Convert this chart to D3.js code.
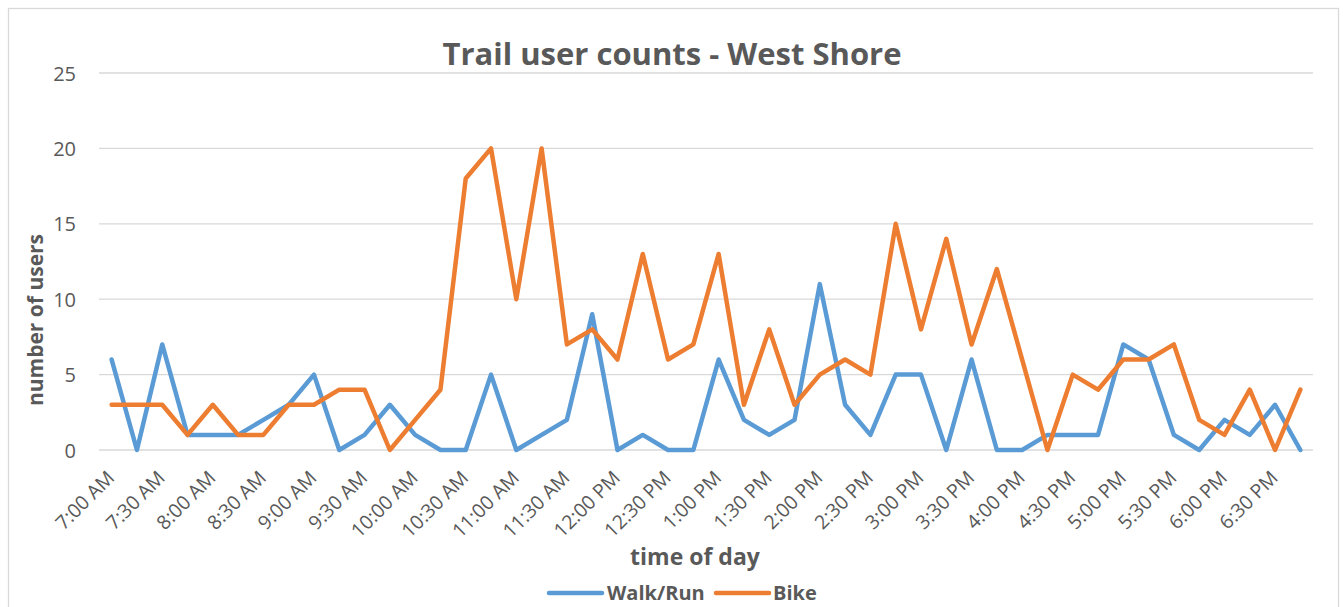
<!DOCTYPE html>
<html><head><meta charset="utf-8">
<script src="https://cdn.jsdelivr.net/npm/d3@7"></script>
<style>body{margin:0;background:#fff;}svg{display:block;font-family:"Open Sans",sans-serif;}</style>
</head><body>
<svg id="c" width="1343" height="607"></svg>
<script>
const times = ["7:00 AM","7:15 AM","7:30 AM","7:45 AM","8:00 AM","8:15 AM","8:30 AM","8:45 AM","9:00 AM","9:15 AM","9:30 AM","9:45 AM","10:00 AM","10:15 AM","10:30 AM","10:45 AM","11:00 AM","11:15 AM","11:30 AM","11:45 AM","12:00 PM","12:15 PM","12:30 PM","12:45 PM","1:00 PM","1:15 PM","1:30 PM","1:45 PM","2:00 PM","2:15 PM","2:30 PM","2:45 PM","3:00 PM","3:15 PM","3:30 PM","3:45 PM","4:00 PM","4:15 PM","4:30 PM","4:45 PM","5:00 PM","5:15 PM","5:30 PM","5:45 PM","6:00 PM","6:15 PM","6:30 PM","6:45 PM"];
const walkRun = [6,0,7,1,1,1,2,3,5,0,1,3,1,0,0,5,0,1,2,9,0,1,0,0,6,2,1,2,11,3,1,5,5,0,6,0,0,1,1,1,7,6,1,0,2,1,3,0];
const bike = [3,3,3,1,3,1,1,3,3,4,4,0,2,4,18,20,10,20,7,8,6,13,6,7,13,3,8,3,5,6,5,15,8,14,7,12,6,0,5,4,6,6,7,2,1,4,0,4];
const yTicks = [0,5,10,15,20,25];
const seriesNames = ["Walk/Run","Bike"];
const colors = ["#5B9BD5","#ED7D31"];

const svg = d3.select("#c");
const txt = "#595959";
svg.append("rect").attr("x",8.5).attr("y",8.5).attr("width",1330).attr("height",610)
  .attr("fill","#fff").attr("stroke","#d9d9d9").attr("stroke-width",1.3);

const L=99, R=1313, T=73, B=450;
const x = d3.scaleBand().domain(times).range([L,R]);
const y = d3.scaleLinear().domain([0,25]).range([B,T]);

// gridlines
svg.append("g").selectAll("line").data(yTicks).join("line")
  .attr("x1",L).attr("x2",R).attr("y1",d=>y(d)).attr("y2",d=>y(d))
  .attr("stroke","#d9d9d9").attr("stroke-width",1.3);

// y axis labels
const ya = svg.append("g").attr("transform",`translate(${L},0)`)
  .call(d3.axisLeft(y).tickValues(yTicks).tickSize(0).tickPadding(23));
ya.select(".domain").remove();
ya.attr("font-size",null).attr("font-family",null);
ya.selectAll("text").attr("font-size",20).attr("fill",txt).attr("dy","0.35em");

// x axis labels
const xa = svg.append("g").attr("transform",`translate(0,${B})`)
  .call(d3.axisBottom(x).tickValues(times.filter((d,i)=>i%2===0)).tickSize(0));
xa.select(".domain").remove();
xa.attr("font-size",null).attr("font-family",null);
xa.selectAll("text").attr("font-size",19.5).attr("fill",txt)
  .attr("text-anchor","end").attr("dy",0).attr("dx",0).attr("y",0)
  .attr("transform","translate(4,29) rotate(-45)");

// lines
const line = d3.line().x((d,i)=>x(times[i])+x.bandwidth()/2).y(d=>y(d));
[walkRun,bike].forEach((s,k)=>{
  svg.append("path").datum(s).attr("d",line).attr("fill","none")
    .attr("stroke",colors[k]).attr("stroke-width",4.5)
    .attr("stroke-linejoin","round").attr("stroke-linecap","round");
});

// title
svg.append("text").attr("x",672).attr("y",65).attr("text-anchor","middle")
  .attr("font-size",31).attr("font-weight","bold").attr("fill",txt).text("Trail user counts - West Shore");
// axis titles
svg.append("text").attr("transform","translate(43,320) rotate(-90)").attr("text-anchor","middle")
  .attr("font-size",21).attr("font-weight","bold").attr("fill",txt).text("number of users");
svg.append("text").attr("x",695).attr("y",565).attr("text-anchor","middle")
  .attr("font-size",23).attr("font-weight","bold").attr("fill",txt).text("time of day");

// legend
const leg = [{x:549,tx:607},{x:716,tx:773}];
seriesNames.forEach((n,k)=>{
  svg.append("line").attr("x1",leg[k].x).attr("x2",leg[k].x+53).attr("y1",593).attr("y2",593)
    .attr("stroke",colors[k]).attr("stroke-width",4.5).attr("stroke-linecap","round");
  svg.append("text").attr("x",leg[k].tx).attr("y",600).attr("font-size",20).attr("font-weight","bold")
    .attr("fill",txt).text(n);
});
</script>
</body></html>
